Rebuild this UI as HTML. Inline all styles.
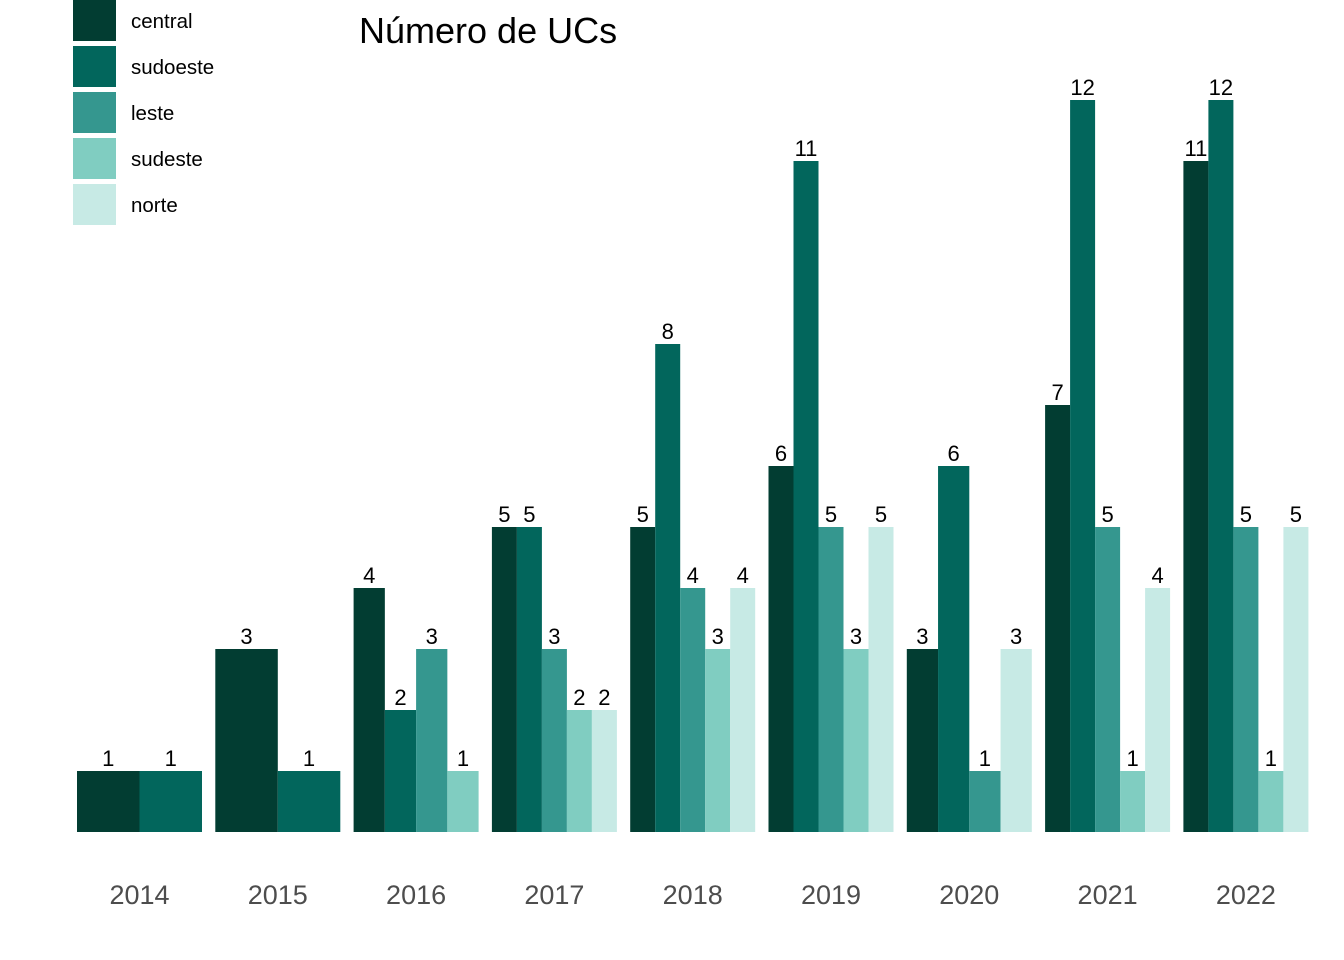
<!DOCTYPE html>
<html><head><meta charset="utf-8"><style>
body{margin:0;background:#fff;}
svg{display:block;font-family:"Liberation Sans",Arial,sans-serif;}
</style></head><body>
<svg id="chart" width="1344" height="960" viewBox="0 0 1344 960" xmlns="http://www.w3.org/2000/svg">
<text x="359" y="43" font-size="36" fill="#000">Número de UCs</text>
<g id="legend"></g>
<g id="bars"></g>
<g id="xaxis"></g>
</svg>
<script>
const years = ["2014","2015","2016","2017","2018","2019","2020","2021","2022"];
const seriesNames = ["central","sudoeste","leste","sudeste","norte"];
const central  = [1,3,4,5,5,6,3,7,11];
const sudoeste = [1,1,2,5,8,11,6,12,12];
const leste    = [null,null,3,3,4,5,1,5,5];
const sudeste  = [null,null,1,2,3,3,null,1,1];
const norte    = [null,null,null,2,4,5,3,4,5];
const colors = ["#023D32","#02665C","#35978F","#80CDC1","#C7EAE5"];
const allSeries = [central,sudoeste,leste,sudeste,norte];

const NS="http://www.w3.org/2000/svg";
const baseY=832, perUnit=61;
const x0=139.5, step=138.3, groupW=125;
function xCenter(i){return x0+i*step;}
function yScale(v){return baseY-v*perUnit;}
function mk(tag,attrs,parent){const e=document.createElementNS(NS,tag);for(const k in attrs)e.setAttribute(k,attrs[k]);parent.appendChild(e);return e;}

const bars=document.getElementById('bars');
years.forEach((yr,i)=>{
  const present=[];
  allSeries.forEach((s,j)=>{if(s[i]!==null&&s[i]!==undefined)present.push(j);});
  const w=groupW/present.length;
  const left=xCenter(i)-groupW/2;
  present.forEach((j,k)=>{
    const v=allSeries[j][i];
    const r=mk('rect',{x:left+k*w,y:yScale(v),width:w,height:v*perUnit,fill:colors[j]},bars);
    
    
    const t=mk('text',{x:left+k*w+w/2,y:yScale(v)-5,'text-anchor':'middle','font-size':'22',fill:'#000'},bars);
    t.textContent=v;
    
    
  });
});
const xa=document.getElementById('xaxis');
years.forEach((yr,i)=>{
  const t=mk('text',{x:xCenter(i),y:904,'text-anchor':'middle','font-size':'27',fill:'#4D4D4D'},xa);
  t.textContent=yr;
  
  
});
const lg=document.getElementById('legend');
seriesNames.forEach((n,j)=>{
  const y=j*46;
  const r=mk('rect',{x:73,y:y,width:43,height:41,fill:colors[j]},lg);
  
  
  const t=mk('text',{x:131,y:y+28,'font-size':'20.5',fill:'#000'},lg);
  t.textContent=n;
  
  
});
</script>
</body></html>
